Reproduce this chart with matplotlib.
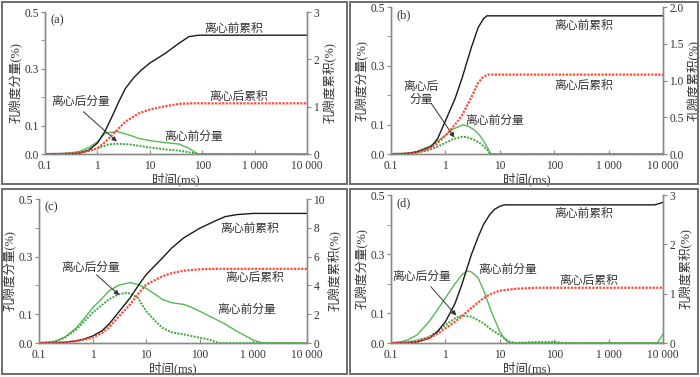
import matplotlib
matplotlib.use("Agg")
import matplotlib.pyplot as plt
from matplotlib.patches import Rectangle
from matplotlib.ticker import FixedLocator, NullLocator

plt.rcParams['font.family'] = ['Liberation Serif', 'Noto Sans CJK SC', 'DejaVu Sans']
plt.rcParams['axes.unicode_minus'] = False

# x tick labels (ms)
x_ticks = [0.1, 1, 10, 100, 1000, 10000]
x_labels = ['0.1', '1', '10', '100', '1 000', '10 000']

# ---- panel (a) ----
a_t_cb = [0.1, 0.2, 0.3, 0.44, 0.68, 1, 1.4, 1.9, 2.5, 3.4, 5, 7, 10, 20, 36, 56, 85, 10000]
a_cb = [0, 0.001, 0.003, 0.012, 0.08, 0.23, 0.48, 0.79, 1.08, 1.38, 1.62, 1.78, 1.92, 2.13, 2.34, 2.48, 2.51, 2.51]
a_t_ca = [0.1, 0.2, 0.3, 0.5, 0.7, 1, 1.4, 1.9, 2.5, 3.4, 6.2, 10, 20, 36, 64, 10000]
a_ca = [0, 0.002, 0.008, 0.03, 0.07, 0.12, 0.25, 0.4, 0.53, 0.68, 0.86, 0.94, 1.01, 1.06, 1.07, 1.07]
a_t_db = [0.1, 0.2, 0.3, 0.44, 0.68, 1, 1.4, 2.4, 4, 6.2, 10, 20, 36, 56, 80, 10000]
a_db = [0, 0.001, 0.003, 0.008, 0.022, 0.043, 0.073, 0.079, 0.067, 0.055, 0.047, 0.04, 0.035, 0.02, 0.001, 0]
a_t_da = [0.1, 0.2, 0.3, 0.5, 0.7, 1, 1.65, 2.4, 4, 10, 20, 36, 70, 90, 10000]
a_da = [0, 0.001, 0.003, 0.007, 0.012, 0.02, 0.034, 0.036, 0.034, 0.023, 0.016, 0.012, 0.003, 0, 0]

# ---- panel (b) ----
b_t_cb = [0.1, 0.15, 0.2, 0.3, 0.55, 0.72, 1, 1.5, 2, 3, 4, 5, 5.8, 10000]
b_cb = [0, 0.002, 0.008, 0.03, 0.1, 0.21, 0.45, 0.75, 1.02, 1.45, 1.72, 1.84, 1.88, 1.88]
b_t_ca = [0.1, 0.2, 0.3, 0.5, 0.7, 1, 1.5, 2, 3, 4, 5, 6, 10000]
b_ca = [0, 0.005, 0.02, 0.07, 0.14, 0.25, 0.4, 0.52, 0.77, 0.97, 1.05, 1.08, 1.08]
b_t_db = [0.1, 0.2, 0.3, 0.5, 0.7, 1, 1.4, 2.07, 2.6, 3.4, 4.3, 5.1, 6, 6.75, 10000]
b_db = [0, 0.002, 0.008, 0.025, 0.042, 0.064, 0.085, 0.099, 0.095, 0.082, 0.063, 0.042, 0.02, 0, 0]
b_t_da = [0.1, 0.2, 0.3, 0.5, 0.7, 1, 1.4, 2.07, 2.6, 3.4, 4.3, 5.1, 6, 6.75, 10000]
b_da = [0, 0.002, 0.005, 0.013, 0.024, 0.038, 0.051, 0.059, 0.056, 0.048, 0.037, 0.025, 0.012, 0, 0]

# ---- panel (c) ----
c_t_cb = [0.1, 0.2, 0.3, 0.5, 0.7, 1, 1.5, 2, 3, 5, 7, 10, 20, 30, 50, 100, 200, 300, 500, 1000, 10000]
c_cb = [0, 0.02, 0.05, 0.15, 0.28, 0.48, 0.85, 1.29, 2.1, 3.13, 3.95, 4.75, 5.9, 6.6, 7.3, 7.97, 8.5, 8.78, 8.92, 9.0, 9.0]
c_t_ca = [0.1, 0.2, 0.3, 0.5, 0.7, 1, 1.5, 2, 3, 5, 7, 10, 20, 30, 50, 100, 200, 10000]
c_ca = [0, 0.02, 0.05, 0.13, 0.23, 0.37, 0.7, 1.06, 1.8, 2.67, 3.4, 4.05, 4.63, 4.85, 5.02, 5.12, 5.15, 5.15]
c_t_db = [0.1, 0.15, 0.2, 0.3, 0.5, 0.7, 1, 1.5, 2, 3, 5, 7, 10, 15, 20, 30, 50, 70, 100, 200, 300, 500, 1000, 1500, 10000]
c_db = [0, 0.002, 0.006, 0.02, 0.053, 0.085, 0.122, 0.155, 0.18, 0.2, 0.21, 0.203, 0.19, 0.168, 0.151, 0.14, 0.134, 0.124, 0.11, 0.082, 0.065, 0.04, 0.01, 0, 0]
c_t_da = [0.1, 0.2, 0.3, 0.5, 0.7, 1, 1.5, 2, 3, 4, 5, 7, 10, 15, 20, 30, 50, 100, 150, 200, 250, 10000]
c_da = [0, 0.005, 0.018, 0.047, 0.075, 0.105, 0.132, 0.151, 0.168, 0.174, 0.172, 0.157, 0.11, 0.075, 0.053, 0.037, 0.03, 0.018, 0.012, 0.003, 0, 0]

# ---- panel (d) ----
d_t_cb = [0.1, 0.2, 0.3, 0.5, 0.7, 1, 1.5, 2, 3, 4, 5, 6.5, 8, 10, 12, 20, 100, 1000, 7000, 10000]
d_cb = [0, 0.005, 0.02, 0.095, 0.22, 0.43, 0.8, 1.18, 1.79, 2.15, 2.4, 2.6, 2.71, 2.77, 2.8, 2.8, 2.8, 2.8, 2.8, 2.85]
d_t_ca = [0.1, 0.2, 0.3, 0.5, 0.7, 1, 1.5, 2, 3, 5, 7, 10, 20, 50, 10000]
d_ca = [0, 0.01, 0.03, 0.1, 0.18, 0.3, 0.43, 0.54, 0.71, 0.91, 1.0, 1.06, 1.1, 1.12, 1.12]
d_t_db = [0.1, 0.15, 0.2, 0.3, 0.5, 0.7, 1, 1.5, 2, 2.5, 3, 4, 5, 7, 10, 13, 15, 7000, 8000, 10000]
d_db = [0, 0.004, 0.01, 0.027, 0.072, 0.11, 0.152, 0.2, 0.23, 0.244, 0.24, 0.22, 0.18, 0.106, 0.038, 0.008, 0, 0, 0.002, 0.03]
d_t_da = [0.1, 0.2, 0.3, 0.5, 0.7, 1, 1.5, 2, 3, 5, 7, 10, 15, 20, 50, 100, 150, 10000]
d_da = [0, 0.003, 0.008, 0.021, 0.038, 0.061, 0.083, 0.093, 0.089, 0.067, 0.045, 0.027, 0.005, 0, 0.004, 0.004, 0, 0]

right_ticks_a = [0, 1, 2, 3]
right_ticks_b = [0.0, 0.5, 1.0, 1.5, 2.0]
right_ticks_c = [0, 2, 4, 6, 8, 10]
right_ticks_d = [0, 1, 2, 3]

BLACK = '#1a1a1a'
RED = '#ff4a3a'
GREEN = '#55b955'
GREEN_D = '#3fa53f'
GRAY = '#8a8a8a'
TXT = '#333333'

W, H = 700, 377
fig = plt.figure(figsize=(7.0, 3.77), dpi=100)


def frac(x0, y0, x1, y1):
    # pixel box (top-left origin) -> figure fraction rect
    return [x0 / W, 1 - y1 / H, (x1 - x0) / W, (y1 - y0) / H]


def panel(box, frame, letter, cb, ca, db, da, rticks, rfmt, texts, arrow):
    fig.add_artist(Rectangle(frame[:2], frame[2], frame[3], transform=fig.transFigure,
                             fill=False, edgecolor='#6e6e6e', lw=1.4))
    ax = fig.add_axes(box)
    ax2 = ax.twinx()
    ax.set_xscale('log')
    ax.set_xlim(0.1, 10000)
    ax.set_ylim(0, 0.5)
    ax2.set_ylim(0, rticks[-1])

    ax.plot(db[0], db[1], color=GREEN, lw=1.0, zorder=3)
    ax.plot(da[0], da[1], color=GREEN_D, lw=1.4, ls=(0, (1, 0.7)), zorder=3)
    ax2.plot(cb[0], cb[1], color=BLACK, lw=1.0)
    ax2.plot(ca[0], ca[1], color=RED, lw=1.6, ls=(0, (1, 0.6)))

    ax.xaxis.set_major_locator(FixedLocator(x_ticks))
    ax.set_xticklabels(x_labels)
    ax.xaxis.set_minor_locator(NullLocator())
    ax.yaxis.set_major_locator(FixedLocator([0.0, 0.1, 0.3, 0.5]))
    ax.set_yticklabels(['0.0', '0.1', '0.3', '0.5'])
    ax.yaxis.set_minor_locator(FixedLocator([0.2, 0.4]))
    ax2.yaxis.set_major_locator(FixedLocator(rticks))
    ax2.set_yticklabels([rfmt.format(v) for v in rticks])
    ax2.yaxis.set_minor_locator(NullLocator())

    for a in (ax, ax2):
        a.spines['top'].set_visible(False)
        for s in ('left', 'right', 'bottom'):
            a.spines[s].set_color(GRAY)
            a.spines[s].set_linewidth(1.0)
    ax.tick_params(axis='x', which='both', direction='in', length=3, color=GRAY,
                   labelsize=8.3, labelcolor=TXT, pad=4.5)
    ax.tick_params(axis='y', which='both', direction='out', length=3, color=GRAY,
                   labelsize=8.3, labelcolor=TXT, pad=1.5)
    ax2.tick_params(axis='y', direction='out', length=3, color=GRAY,
                    labelsize=8.3, labelcolor=TXT, pad=1.5)

    ax.set_xlabel('时间(ms)', fontsize=9, color=TXT, labelpad=0)
    ax.set_ylabel('孔隙度分量(%)', fontsize=9, color=TXT, labelpad=2)
    ax2.set_ylabel('孔隙度累积(%)', fontsize=9, color=TXT, labelpad=2)

    ax.text(0.02, 0.985, letter, transform=ax.transAxes, fontsize=9, color=TXT,
            ha='left', va='top')
    for (s, x, y) in texts:
        ax.text(x, y, s, fontsize=8.5, color=TXT, ha='center', va='center',
                linespacing=1.1, zorder=5)
    ax.annotate('', xy=arrow[1], xytext=arrow[0],
                arrowprops=dict(arrowstyle='-|>', color='#333333', lw=0.7,
                                mutation_scale=7, shrinkA=0, shrinkB=0), zorder=5)
    return ax


panel(frac(45, 12, 307, 154), frac(2, 2, 347, 184), '(a)',
      (a_t_cb, a_cb), (a_t_ca, a_ca), (a_t_db, a_db), (a_t_da, a_da),
      right_ticks_a, '{:g}',
      [('离心前累积', 400, 0.44), ('离心后累积', 490, 0.2),
       ('离心前分量', 68, 0.061), ('离心后分量', 0.47, 0.185)],
      ((0.54, 0.149), (2.35, 0.044)))

panel(frac(391, 7, 663, 154), frac(350, 2, 698, 184), '(b)',
      (b_t_cb, b_cb), (b_t_ca, b_ca), (b_t_db, b_db), (b_t_da, b_da),
      right_ticks_b, '{:.1f}',
      [('离心前累积', 343, 0.436), ('离心后累积', 343, 0.232),
       ('离心前分量', 7.9, 0.114), ('离心后\n分量', 0.36, 0.206)],
      ((0.55, 0.172), (1.46, 0.056)))

panel(frac(39, 199, 307, 343), frac(2, 189, 347, 374), '(c)',
      (c_t_cb, c_cb), (c_t_ca, c_ca), (c_t_db, c_db), (c_t_da, c_da),
      right_ticks_c, '{:g}',
      [('离心前累积', 850, 0.396), ('离心后累积', 1070, 0.226),
       ('离心前分量', 740, 0.114), ('离心后分量', 0.91, 0.26)],
      ((1.18, 0.237), (3.13, 0.166)))

panel(frac(391, 195, 663, 343), frac(350, 189, 698, 374), '(d)',
      (d_t_cb, d_cb), (d_t_ca, d_ca), (d_t_db, d_db), (d_t_da, d_da),
      right_ticks_d, '{:g}',
      [('离心前累积', 343, 0.437), ('离心后累积', 425, 0.208),
       ('离心前分量', 13.8, 0.248), ('离心后分量', 0.37, 0.225)],
      ((0.54, 0.19), (1.58, 0.093)))

fig.savefig('out.png', dpi=100)
